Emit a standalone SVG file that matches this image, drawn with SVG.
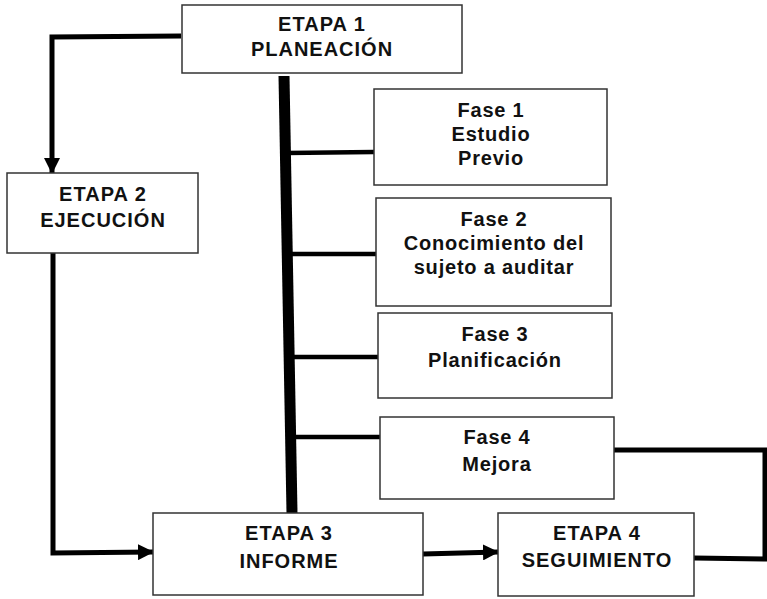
<svg xmlns="http://www.w3.org/2000/svg" width="767" height="599" viewBox="0 0 767 599">
<style>
.box{fill:#fff;stroke:#333;stroke-width:1.5}
.t{font-family:"Liberation Sans",Arial,sans-serif;font-weight:bold;font-size:20px;fill:#111;text-anchor:middle}
.e{letter-spacing:1px}
.f{letter-spacing:0.8px}
.c{fill:none;stroke:#000;stroke-width:5;stroke-linejoin:miter}
.b{fill:none;stroke:#000;stroke-width:4.5}
</style>
<defs>
<marker id="ah" markerUnits="userSpaceOnUse" markerWidth="16" markerHeight="16" refX="15" refY="8" orient="auto" viewBox="0 0 16 16">
<path d="M0,0 L16,8 L0,16 Z" fill="#000"/>
</marker>
</defs>
<rect width="767" height="599" fill="#fff"/>
<g id="connectors">
<path class="c" d="M181,36 L52,37 L52,173" marker-end="url(#ah)"/>
<path class="c" d="M53,253 L53,553 L153,552" marker-end="url(#ah)"/>
<path class="c" d="M423,554 L498,552" marker-end="url(#ah)"/>
<path class="c" d="M614,450 L765,450 L765,559 L694,558"/>
<path d="M284,76 L292,513" fill="none" stroke="#000" stroke-width="11"/>
<path class="b" d="M286,153 L374,152"/>
<path class="b" d="M288,254 L376,254"/>
<path class="b" d="M290,357 L378,357"/>
<path class="b" d="M291,437 L380,437"/>
</g>
<g id="etapa1">
<rect class="box" x="182" y="5" width="280" height="68"/>
<text class="t e" x="322" y="31">ETAPA 1</text>
<text class="t e" x="322" y="56">PLANEACIÓN</text>
</g>
<g id="etapa2">
<rect class="box" x="7" y="173" width="191" height="80"/>
<text class="t e" x="103" y="201">ETAPA 2</text>
<text class="t e" x="103" y="227">EJECUCIÓN</text>
</g>
<g id="fase1">
<rect class="box" x="374" y="89" width="233" height="96"/>
<text class="t f" x="491" y="117">Fase 1</text>
<text class="t f" x="491" y="141">Estudio</text>
<text class="t f" x="491" y="165">Previo</text>
</g>
<g id="fase2">
<rect class="box" x="376" y="198" width="235" height="108"/>
<text class="t f" x="494" y="226">Fase 2</text>
<text class="t f" x="494" y="250">Conocimiento del</text>
<text class="t f" x="494" y="274">sujeto a auditar</text>
</g>
<g id="fase3">
<rect class="box" x="378" y="313" width="234" height="85"/>
<text class="t f" x="495" y="341">Fase 3</text>
<text class="t f" x="495" y="367">Planificación</text>
</g>
<g id="fase4">
<rect class="box" x="380" y="417" width="234" height="82"/>
<text class="t f" x="497" y="444">Fase 4</text>
<text class="t f" x="497" y="471">Mejora</text>
</g>
<g id="etapa3">
<rect class="box" x="153" y="513" width="270" height="82"/>
<text class="t e" x="289" y="540">ETAPA 3</text>
<text class="t e" x="289" y="568">INFORME</text>
</g>
<g id="etapa4">
<rect class="box" x="498" y="513" width="196" height="83"/>
<text class="t e" x="597" y="540">ETAPA 4</text>
<text class="t e" x="597" y="567">SEGUIMIENTO</text>
</g>
</svg>
